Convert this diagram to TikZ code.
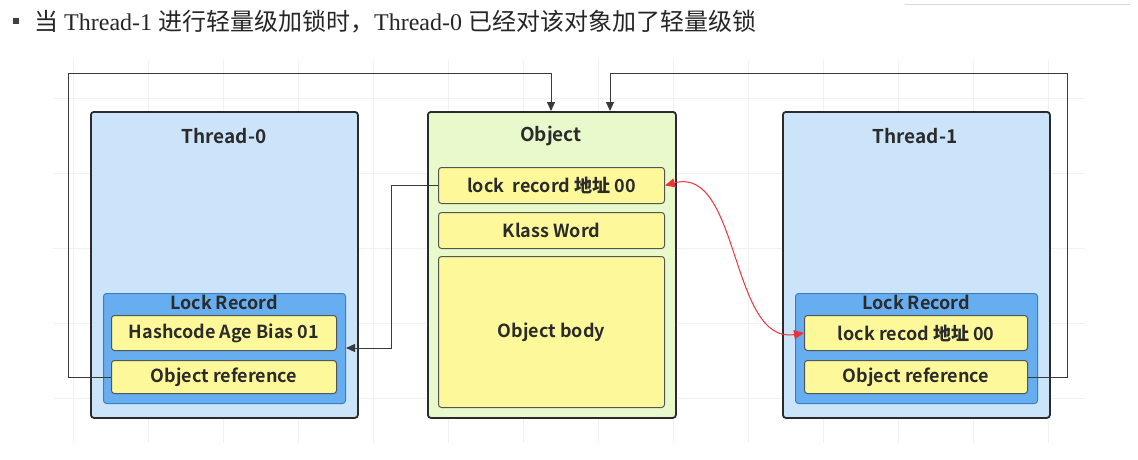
\documentclass[tikz,border=0pt]{standalone}
\usepackage{fontspec}
\setmainfont{Liberation Serif}
\newfontfamily\cjk{Noto Sans CJK SC}
\newfontfamily\dia{Noto Sans CJK SC}[BoldFont={* Bold}]
\usetikzlibrary{arrows.meta}
\definecolor{thrfill}{HTML}{CCE4FA}
\definecolor{lrfill}{HTML}{67AEF0}
\definecolor{lrdraw}{HTML}{3F7EBD}
\definecolor{yel}{HTML}{FDF99A}
\definecolor{objfill}{HTML}{E8FACC}
\definecolor{dk}{HTML}{2B2B2B}
\definecolor{ln}{HTML}{3A3A3A}
\definecolor{gridc}{HTML}{F1F1F1}
\definecolor{redc}{HTML}{E8323C}
\tikzset{
  outerbox/.style={draw=dk, line width=1.8pt, rounded corners=3pt, inner sep=0pt},
  lrbox/.style={draw=lrdraw, line width=1pt, fill=lrfill, rounded corners=3pt, inner sep=0pt},
  field/.style={draw=dk!80, line width=1pt, fill=yel, rounded corners=3pt, inner sep=0pt, font=\dia\bfseries\fontsize{18}{21}\selectfont, text=dk},
  ttl/.style={font=\dia\bfseries\fontsize{19}{22}\selectfont, text=dk, inner sep=0pt},
  lrttl/.style={font=\dia\bfseries\fontsize{18}{21}\selectfont, text=dk, inner sep=0pt},
  conn/.style={draw=ln, line width=1pt},
  tip/.style={-{Triangle[length=9pt,width=8pt]}},
}
\begin{document}
\begin{tikzpicture}[x=1pt,y=-1pt]
\useasboundingbox (0,0) rectangle (1138,460);
\fill[white] (0,0) rectangle (1138,460);
% faint background grid
\foreach \gx in {73,148,...,1085} \draw[gridc, line width=0.8pt] (\gx,60) -- (\gx,443);
\foreach \gy in {98,173,...,443} \draw[gridc, line width=0.8pt] (53,\gy) -- (1085,\gy);
\draw[gray!30, line width=1pt] (905,5) -- (1130,5);
% header
\fill[black!75] (13,18) rectangle (19,24);
\node[anchor=west, inner sep=0pt, text=black!85, font=\fontsize{24}{27}\selectfont] (hdr) at (34,22)
  {{\cjk 当} Thread-1 {\cjk 进行轻量级加锁时，}Thread-0 {\cjk 已经对该对象加了轻量级锁}};
% Thread-0
\node[outerbox, fill=thrfill, minimum width=267pt, minimum height=306pt, anchor=north west] (t0) at (90,111) {};
\node[ttl] (t0t) at (224,136) {Thread-0};
\node[lrbox, minimum width=242pt, minimum height=110pt, anchor=north west] (lr0) at (103,293) {};
\node[lrttl] (lr0t) at (224,302) {Lock Record};
\node[field, minimum width=225pt, minimum height=35pt, anchor=north west] (hash) at (111,315) {Hashcode Age Bias 01};
\node[field, minimum width=225pt, minimum height=33pt, anchor=north west] (oref0) at (111,360) {Object reference};
% Object
\node[outerbox, fill=objfill, minimum width=248pt, minimum height=306pt, anchor=north west] (obj) at (427,111) {};
\node[ttl] (objt) at (551,136) {Object};
\node[field, minimum width=226pt, minimum height=36pt, anchor=north west] (mark) at (438,167) {lock\ \ record {\cjk\bfseries 地址} 00};
\node[field, minimum width=226pt, minimum height=36pt, anchor=north west] (klass) at (438,212) {Klass Word};
\node[field, minimum width=226pt, minimum height=151pt, anchor=north west] (body) at (438,256) {Object body};
% Thread-1
\node[outerbox, fill=thrfill, minimum width=267pt, minimum height=306pt, anchor=north west] (t1) at (782,111) {};
\node[ttl] (t1t) at (915,136) {Thread-1};
\node[lrbox, minimum width=242pt, minimum height=110pt, anchor=north west] (lr1) at (795,293) {};
\node[lrttl] (lr1t) at (916,302) {Lock Record};
\node[field, minimum width=223pt, minimum height=35pt, anchor=north west] (lrec1) at (804,315) {lock recod {\cjk\bfseries 地址} 00};
\node[field, minimum width=223pt, minimum height=33pt, anchor=north west] (oref1) at (804,360) {Object reference};
% connectors
\coordinate (topL) at (551,74);
\coordinate (topR) at (610,74);
\draw[conn, tip] (oref0.west) -- ++(-43,0) |- (topL) -- (topL |- obj.north);
\draw[conn, tip] (oref1.east) -- ++(39,0) |- (topR) -- (topR |- obj.north);
\draw[conn, tip] (mark.west) -- ++(-47,0) |- (lr0.east |- 0,348);
\draw[redc, line width=1pt, {Triangle[length=10pt,width=9pt]}-{Triangle[length=10pt,width=9pt]}]
  (mark.east) .. controls (740,165) and (730,345) .. (lrec1.west);
\end{tikzpicture}
\end{document}
